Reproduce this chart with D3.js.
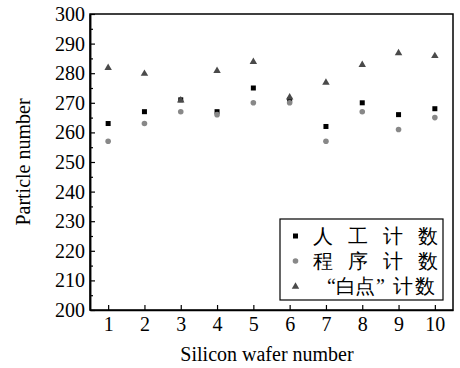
<!DOCTYPE html>
<html>
<head>
<meta charset="utf-8">
<script src="https://cdn.jsdelivr.net/npm/d3@7"></script>
<style>
body { margin: 0; background: #fff; }
text { font-family: "Liberation Serif", "DejaVu Serif", serif; }
</style>
</head>
<body>
<script>
let wafers = [1, 2, 3, 4, 5, 6, 7, 8, 9, 10]
let manual = [263, 267, 271, 267, 275, 271, 262, 270, 266, 268]
let program = [257, 263, 267, 266, 270, 270, 257, 267, 261, 265]
let whiteDot = [282, 280, 271, 281, 284, 272, 277, 283, 287, 286]
let yTicks = [200, 210, 220, 230, 240, 250, 260, 270, 280, 290, 300]
let yMinor = [205, 215, 225, 235, 245, 255, 265, 275, 285, 295]
let legendLabels = ["人工计数", "程序计数", "“白点”计数"]

let w = 460
let h = 368
let padL = 90, padR = 453, padT = 14, padB = 310

let svg = d3.select("body").append("svg")
  .attr("width", w)
  .attr("height", h)

let xScale = d3.scaleLinear().domain([0.5, 10.5]).range([padL, padR])
let yScale = d3.scaleLinear().domain([200, 300]).range([padB, padT])

// frame
svg.append("rect")
  .attr("x", padL).attr("y", padT)
  .attr("width", padR - padL).attr("height", padB - padT)
  .attr("fill", "none").attr("stroke", "#000").attr("stroke-width", 1.5)

let xAxis = d3.axisBottom(xScale).tickValues(wafers).tickSize(-5).tickSizeOuter(0).tickPadding(7)
let gx = svg.append("g").attr("transform", "translate(0," + padB + ")").call(xAxis)

let yAxis = d3.axisLeft(yScale).tickValues(yTicks).tickSize(-5).tickSizeOuter(0).tickPadding(5)
let gy = svg.append("g").attr("transform", "translate(" + padL + ",0)").call(yAxis)

let yAxisMinor = d3.axisLeft(yScale).tickValues(yMinor).tickSize(-3).tickSizeOuter(0).tickFormat("")
let gy2 = svg.append("g").attr("transform", "translate(" + padL + ",0)").call(yAxisMinor)

;[gx, gy, gy2].forEach(g => {
  g.select(".domain").attr("stroke-width", 1.5)
  g.selectAll(".tick line").attr("stroke-width", 1.2)
  g.selectAll("text").attr("font-size", 20).attr("font-family", "Liberation Serif").attr("fill", "#000")
})

// axis titles
svg.append("text")
  .text("Silicon wafer number")
  .attr("x", 267).attr("y", 361)
  .attr("text-anchor", "middle")
  .attr("font-size", 20)

svg.append("text")
  .text("Particle number")
  .attr("transform", "translate(30," + ((padT + padB) / 2) + ") rotate(-90)")
  .attr("text-anchor", "middle")
  .attr("font-size", 20)

// markers
let sq = 5
svg.selectAll(".manual")
  .data(manual)
  .enter()
  .append("rect")
  .attr("class", "manual")
  .attr("x", (d, i) => xScale(wafers[i]) - sq / 2)
  .attr("y", d => yScale(d) - sq / 2)
  .attr("width", sq).attr("height", sq)
  .attr("fill", "#000")

svg.selectAll(".program")
  .data(program)
  .enter()
  .append("circle")
  .attr("class", "program")
  .attr("cx", (d, i) => xScale(wafers[i]))
  .attr("cy", d => yScale(d))
  .attr("r", 2.8)
  .attr("fill", "#888")

let tri = d3.symbol().type(d3.symbolTriangle).size(24)
svg.selectAll(".white")
  .data(whiteDot)
  .enter()
  .append("path")
  .attr("class", "white")
  .attr("d", tri)
  .attr("transform", (d, i) => "translate(" + xScale(wafers[i]) + "," + (yScale(d) + 0.5) + ")")
  .attr("fill", "#4a4a4a")

// legend
let lg = svg.append("g")
lg.append("rect")
  .attr("x", 280).attr("y", 219)
  .attr("width", 163).attr("height", 81)
  .attr("fill", "#fff").attr("stroke", "#000").attr("stroke-width", 1.2)

let rowY = [236, 261, 286]
lg.append("rect").attr("x", 293).attr("y", rowY[0] - 2.5).attr("width", sq).attr("height", sq).attr("fill", "#000")
lg.append("circle").attr("cx", 295.5).attr("cy", rowY[1]).attr("r", 2.8).attr("fill", "#888")
lg.append("path").attr("d", tri).attr("transform", "translate(295.5," + (rowY[2] + 0.5) + ")").attr("fill", "#4a4a4a")

// last row: spread the glyphs like the original's full-width quotes
let row3X = [327, 336, 355, 376, 393, 415]

legendLabels.forEach((t, i) => {
  let txt = lg.append("text")
    .attr("y", rowY[i] + 7)
    .attr("font-size", 20)
    .attr("font-family", "Noto Sans CJK SC")
    .attr("font-weight", 300)
  if (i < 2) {
    txt.text(t).attr("x", 313).attr("textLength", 125).attr("lengthAdjust", "spacing")
  } else {
    Array.from(t).forEach((ch, k) => {
      txt.append("tspan").attr("x", row3X[k]).text(ch)
    })
  }
})
</script>
</body>
</html>
